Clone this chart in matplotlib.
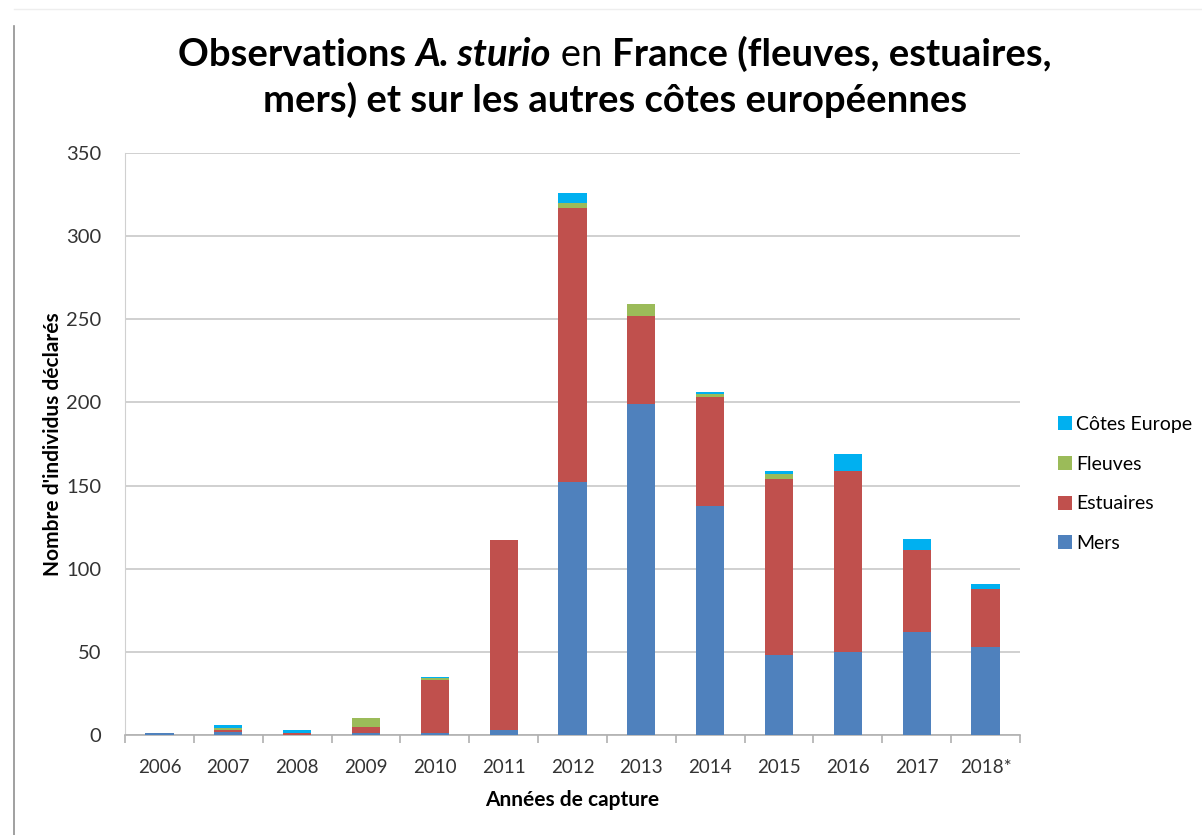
import matplotlib
matplotlib.use("Agg")
import matplotlib.pyplot as plt
import numpy as np
from matplotlib.patches import Patch
from matplotlib.lines import Line2D

years = ["2006", "2007", "2008", "2009", "2010", "2011", "2012", "2013", "2014", "2015", "2016", "2017", "2018*"]
mers = [1, 2, 0, 1, 1, 3, 152, 199, 138, 48, 50, 62, 53]
estuaires = [0, 1, 1, 4, 32, 114, 165, 53, 65, 106, 109, 49, 35]
fleuves = [0, 1, 0, 5, 1, 0, 3, 7, 2, 3, 0, 0, 0]
cotes = [0, 2, 2, 0, 1, 0, 6, 0, 1, 2, 10, 7, 3]
series_names = ["Mers", "Estuaires", "Fleuves", "Côtes Europe"]
colors = ["#4F81BD", "#C0504D", "#9BBB59", "#00B0F0"]
yticks = [0, 50, 100, 150, 200, 250, 300, 350]

FONT = ["Lato", "DejaVu Sans"]
plt.rcParams['font.family'] = FONT

W, H = 1202, 835
fig = plt.figure(figsize=(W / 100, H / 100), dpi=100)
ax = fig.add_axes([125 / W, 1 - 735 / H, (1020 - 125) / W, (735 - 153) / H])

x = np.arange(len(years))
bottom = np.zeros(len(years))
data = [mers, estuaires, fleuves, cotes]
for vals, c in zip(data, colors):
    ax.bar(x, vals, bottom=bottom, width=0.41, color=c, zorder=3)
    bottom += np.array(vals)

ax.set_xlim(-0.5, len(years) - 0.5)
ax.set_ylim(0, 350)
ax.set_yticks(yticks)
ax.set_yticklabels([str(v) for v in yticks], fontsize=14.5, color="#333333")
ax.yaxis.grid(True, color="#c8c8c8", linewidth=1.2, zorder=0)
ax.tick_params(axis='y', length=0, pad=17)
ax.set_xticks(x)
ax.set_xticklabels(years, fontsize=13.5, color="#333333")
ax.tick_params(axis='x', length=0, pad=17)
ax.set_xticks(np.arange(len(years) + 1) - 0.5, minor=True)
ax.tick_params(axis='x', which='minor', length=6, color="#b0b0b0", width=1.2)
for s in ["top", "right"]:
    ax.spines[s].set_visible(False)
ax.spines["left"].set_color("#d0d0d0")
ax.spines["bottom"].set_color("#b0b0b0")
ax.spines["bottom"].set_linewidth(1.2)

ax.set_ylabel("Nombre d'individus déclarés", fontsize=15, fontweight="bold")
ax.yaxis.set_label_coords((63 - 125) / 895, 0.5)
ax.set_xlabel("Années de capture", fontsize=15, fontweight="bold", labelpad=10)

handles = [Patch(facecolor=c, label=n) for n, c in zip(series_names, colors)][::-1]
fig.legend(handles=handles, loc="center left", bbox_to_anchor=(1040 / W, 1 - 484 / H),
           frameon=False, fontsize=14, handlelength=0.72, handleheight=0.72,
           handletextpad=0.25, labelspacing=1.17)

# title with mixed styles
renderer = fig.canvas.get_renderer()
def line(parts, y, cx):
    texts = []
    for s, w, st in parts:
        t = fig.text(0, y, s, fontsize=27.5, fontweight=w, fontstyle=st, va="baseline", ha="left")
        texts.append(t)
    widths = [t.get_window_extent(renderer).width for t in texts]
    total = sum(widths)
    xpos = cx - total / 2
    for t, wd in zip(texts, widths):
        t.set_x(xpos / W)
        xpos += wd

line([("Observations ", "bold", "normal"), ("A. sturio", "bold", "italic"),
      (" en ", "normal", "normal"), ("France (fleuves, estuaires,", "bold", "normal")],
     1 - 66 / H, 615)
line([("mers) et sur les autres côtes européennes", "bold", "normal")], 1 - 112 / H, 615)

# figure frame lines
fig.add_artist(Line2D([14 / W, 14 / W], [0, 1 - 26 / H], color="#909090", linewidth=1.2))
fig.add_artist(Line2D([14 / W, 1], [1 - 9 / H, 1 - 9 / H], color="#eeeeee", linewidth=1.0))

fig.savefig("out.png", dpi=100)
